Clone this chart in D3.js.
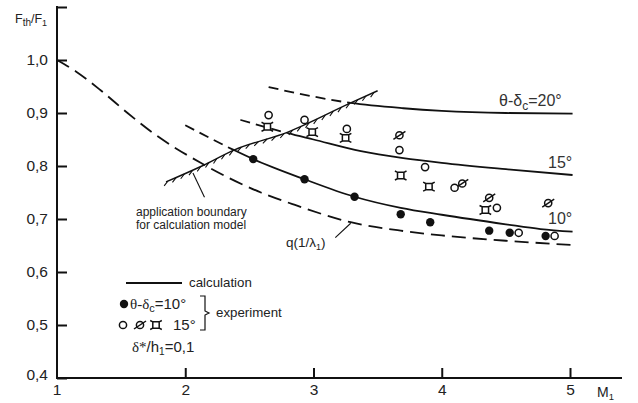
<!DOCTYPE html>
<html>
<head>
<meta charset="utf-8">
<script src="https://cdn.jsdelivr.net/npm/d3@7"></script>
<style>
  body { margin: 0; background: #fff; }
  svg { display: block; font-family: "Liberation Sans", Arial, sans-serif; }
</style>
</head>
<body>
<svg id="chart" width="638" height="403"></svg>
<script>
// Mach number axis ticks and y-axis ticks
const xTicks = [1, 2, 3, 4, 5];
const yTicks = [0.4, 0.5, 0.6, 0.7, 0.8, 0.9, 1.0, 1.1];
const yLabelTicks = [0.4, 0.5, 0.6, 0.7, 0.8, 0.9, 1.0];

// q(1/λ1) reference curve
const qCurve = [
  [1.0, 1.0], [1.15, 0.978], [1.34, 0.943], [1.55, 0.900], [1.75, 0.862],
  [2.12, 0.806], [2.59, 0.750], [2.85, 0.727], [3.29, 0.694], [3.68, 0.678],
  [4.0, 0.669], [4.5, 0.659], [5.02, 0.651]
];

// calculated curves for θ-δc = 10°, 15°, 20°
const calc10 = [
  [2.0, 0.877], [2.38, 0.830], [2.53, 0.813], [2.93, 0.775], [3.32, 0.742],
  [3.68, 0.721], [4.0, 0.708], [4.5, 0.690], [4.77, 0.681], [5.02, 0.676]
];
const calc15 = [
  [2.43, 0.887], [2.8, 0.862], [3.0, 0.850], [3.37, 0.828], [3.7, 0.815],
  [4.0, 0.806], [4.5, 0.794], [5.02, 0.783]
];
const calc20 = [
  [2.65, 0.949], [3.0, 0.931], [3.29, 0.919], [3.7, 0.909], [4.0, 0.904],
  [4.5, 0.900], [5.02, 0.899]
];
// M1 where each calculated curve crosses the application boundary
const boundaryCross = { c10: 2.38, c15: 2.8, c20: 3.29 };

// application boundary of the calculation model
const boundary = [
  [1.85, 0.770], [2.13, 0.800], [2.38, 0.830], [2.8, 0.864], [3.29, 0.919], [3.5, 0.942]
];

// experiment, θ-δc = 10° (filled circles)
const exp10 = [
  [2.53, 0.813], [2.93, 0.775], [3.32, 0.742], [3.68, 0.709], [3.91, 0.694],
  [4.37, 0.678], [4.53, 0.674], [4.81, 0.668]
];
// experiment, θ-δc = 15° (three series: open circle, slashed circle, square)
const exp15Open = [
  [2.65, 0.896], [2.93, 0.887], [3.26, 0.870], [3.67, 0.830], [3.87, 0.798],
  [4.10, 0.759], [4.43, 0.721], [4.60, 0.674], [4.88, 0.668]
];
const exp15Slash = [
  [3.67, 0.858], [4.16, 0.767], [4.37, 0.740], [4.83, 0.730]
];
const exp15Square = [
  [2.64, 0.874], [2.99, 0.864], [3.25, 0.853], [3.68, 0.782], [3.90, 0.761], [4.34, 0.717]
];

const svg = d3.select("#chart");
const x = d3.scaleLinear().domain([1, 5]).range([57, 570]);
const y = d3.scaleLinear().domain([0.4, 1.1]).range([378, 7]);
const ink = "#111";
const fmt = d => d3.format(".1f")(d).replace(".", ",");

// axes
const gx = svg.append("g").attr("transform", `translate(0,${y(0.4)})`)
  .call(d3.axisBottom(x).tickValues(xTicks.slice(1)).tickSizeInner(-10).tickSizeOuter(0).tickPadding(6).tickFormat(d3.format("d")));
const gy = svg.append("g").attr("transform", `translate(${x(1)},0)`)
  .call(d3.axisLeft(y).tickValues(yTicks).tickSizeInner(-10).tickSizeOuter(0).tickPadding(9)
    .tickFormat(d => yLabelTicks.includes(d) ? fmt(d) : ""));
[gx, gy].forEach(g => {
  g.select(".domain").remove();
  g.selectAll("line").attr("stroke", ink).attr("stroke-width", 2);
  g.selectAll("text").attr("fill", "#222").attr("font-size", 15.5)
    .attr("font-family", "Liberation Sans, Arial, sans-serif");
});
gy.selectAll(".tick").filter(d => d === 0.4).select("text").attr("dy", "0.1em");
gx.append("text").attr("x", x(1)).attr("y", 6).attr("dy", "0.71em")
  .attr("text-anchor", "middle").attr("fill", "#222").attr("font-size", 15.5)
  .attr("font-family", "Liberation Sans, Arial, sans-serif").text(xTicks[0]);

svg.append("line").attr("x1", x(1)).attr("x2", 622).attr("y1", y(0.4)).attr("y2", y(0.4))
  .attr("stroke", ink).attr("stroke-width", 2);
svg.append("line").attr("x1", x(1)).attr("x2", x(1)).attr("y1", y(0.4) + 1).attr("y2", y(1.1) - 1)
  .attr("stroke", ink).attr("stroke-width", 2);

// axis titles
const yTitle = svg.append("text").attr("x", 15).attr("y", 23).attr("font-size", 12.5).attr("fill", "#222");
yTitle.append("tspan").text("F");
yTitle.append("tspan").attr("font-size", 10).attr("dy", 3).text("th");
yTitle.append("tspan").attr("dy", -3).text("/F");
yTitle.append("tspan").attr("font-size", 9).attr("dy", 3).text("1");

const xTitle = svg.append("text").attr("x", 597).attr("y", 397).attr("font-size", 14).attr("fill", "#222");
xTitle.append("tspan").text("M");
xTitle.append("tspan").attr("font-size", 9.5).attr("dy", 3).text("1");

const line = d3.line().x(d => x(d[0])).y(d => y(d[1])).curve(d3.curveMonotoneX);

// clip regions left / right of each boundary crossing
const defs = svg.append("defs");
Object.entries(boundaryCross).forEach(([k, m]) => {
  defs.append("clipPath").attr("id", `L${k}`).append("rect")
    .attr("x", 0).attr("y", 0).attr("width", x(m)).attr("height", 403);
  defs.append("clipPath").attr("id", `R${k}`).append("rect")
    .attr("x", x(m)).attr("y", 0).attr("width", 638 - x(m)).attr("height", 403);
});

// q(1/λ1)
svg.append("path").attr("d", line(qCurve)).attr("fill", "none").attr("stroke", ink)
  .attr("stroke-width", 1.8).attr("stroke-dasharray", "14,7");

// calculated curves: dashed outside the model's range, solid inside
[["c10", calc10], ["c15", calc15], ["c20", calc20]].forEach(([k, data]) => {
  svg.append("path").attr("d", line(data)).attr("clip-path", `url(#L${k})`)
    .attr("fill", "none").attr("stroke", ink).attr("stroke-width", 1.8).attr("stroke-dasharray", "10,6");
  svg.append("path").attr("d", line(data)).attr("clip-path", `url(#R${k})`)
    .attr("fill", "none").attr("stroke", ink).attr("stroke-width", 1.8);
});

// application boundary with hatching
const bPath = svg.append("path").attr("d", line(boundary)).attr("fill", "none")
  .attr("stroke", ink).attr("stroke-width", 1.4);
const bNode = bPath.node();
const bLen = bNode.getTotalLength();
const hatch = d3.path();
for (let s = 2; s < bLen - 1; s += 9) {
  const p = bNode.getPointAtLength(s);
  const q = bNode.getPointAtLength(Math.min(s + 1, bLen));
  const a = Math.atan2(q.y - p.y, q.x - p.x);
  const ha = a + Math.PI * 0.84;
  hatch.moveTo(p.x, p.y);
  hatch.lineTo(p.x + 6 * Math.cos(ha), p.y + 6 * Math.sin(ha));
}
svg.append("path").attr("d", hatch.toString()).attr("fill", "none").attr("stroke", ink).attr("stroke-width", 1.1);

// leaders
svg.append("line").attr("x1", x(2.06)).attr("y1", y(0.787)).attr("x2", x(2.15)).attr("y2", y(0.741))
  .attr("stroke", ink).attr("stroke-width", 1.1);
svg.append("line").attr("x1", x(3.29)).attr("y1", y(0.692)).attr("x2", x(3.17)).attr("y2", y(0.665))
  .attr("stroke", ink).attr("stroke-width", 1.1);

// annotation texts
const ann = svg.append("g").attr("font-size", 12).attr("fill", "#222");
ann.append("text").attr("x", 136).attr("y", 216).text("application boundary");
ann.append("text").attr("x", 136).attr("y", 229).text("for calculation model");
const qt = ann.append("text").attr("x", 286).attr("y", 247).attr("font-size", 13.5);
qt.append("tspan").text("q(1/λ");
qt.append("tspan").attr("font-size", 9).attr("dy", 3).text("1");
qt.append("tspan").attr("dy", -3).text(")");

const lab = svg.append("g").attr("font-size", 16).attr("fill", "#333");
const t20 = lab.append("text").attr("x", 499).attr("y", 106);
t20.append("tspan").text("θ-δ");
t20.append("tspan").attr("font-size", 12).attr("dy", 4).text("c");
t20.append("tspan").attr("dy", -4).text("=20°");
lab.append("text").attr("x", 548).attr("y", 168).text("15°");
lab.append("text").attr("x", 548).attr("y", 224).text("10°");

// experimental point symbols
function filled(g, cx, cy) {
  g.append("circle").attr("cx", cx).attr("cy", cy).attr("r", 4.2).attr("fill", ink);
}
function open(g, cx, cy) {
  g.append("circle").attr("cx", cx).attr("cy", cy).attr("r", 3.6).attr("fill", "#fff")
    .attr("stroke", ink).attr("stroke-width", 1.5);
}
function slashed(g, cx, cy) {
  open(g, cx, cy);
  g.append("line").attr("x1", cx - 6).attr("y1", cy + 4).attr("x2", cx + 6).attr("y2", cy - 4)
    .attr("stroke", ink).attr("stroke-width", 1.5);
}
function square(g, cx, cy) {
  const h = 3.2, t = 2.6;
  const p = d3.path();
  p.moveTo(cx - h, cy - h); p.lineTo(cx + h, cy - h); p.lineTo(cx + h, cy + h);
  p.lineTo(cx - h, cy + h); p.closePath();
  [[-1, -1], [1, -1], [1, 1], [-1, 1]].forEach(([sx, sy]) => {
    p.moveTo(cx + sx * h, cy + sy * h);
    p.lineTo(cx + sx * (h + t), cy + sy * (h + t * 0.5));
  });
  g.append("path").attr("d", p.toString()).attr("fill", "#fff").attr("stroke", ink).attr("stroke-width", 1.5);
}

const pts = svg.append("g");
exp15Square.forEach(d => square(pts, x(d[0]), y(d[1])));
exp15Slash.forEach(d => slashed(pts, x(d[0]), y(d[1])));
exp15Open.forEach(d => open(pts, x(d[0]), y(d[1])));
exp10.forEach(d => filled(pts, x(d[0]), y(d[1])));

// legend
const lg = svg.append("g").attr("fill", "#222");
lg.append("line").attr("x1", 126).attr("x2", 182).attr("y1", 283).attr("y2", 283)
  .attr("stroke", ink).attr("stroke-width", 1.8);
lg.append("text").attr("x", 189).attr("y", 287).attr("font-size", 13.3).text("calculation");
filled(lg, 124, 304);
const l10 = lg.append("text").attr("x", 130).attr("y", 309).attr("font-size", 15);
l10.append("tspan").attr("font-family", "Liberation Serif, serif").text("θ-δ");
l10.append("tspan").attr("font-size", 11).attr("dy", 3).text("c");
l10.append("tspan").attr("dy", -3).text("=10°");
open(lg, 123, 325);
slashed(lg, 140, 325);
square(lg, 156, 325);
lg.append("text").attr("x", 173).attr("y", 330).attr("font-size", 15).text("15°");
lg.append("path").attr("d", "M200,296 L205,296 L205,311 L209,313 L205,315 L205,330 L200,330")
  .attr("fill", "none").attr("stroke", ink).attr("stroke-width", 1.2);
lg.append("text").attr("x", 216).attr("y", 317).attr("font-size", 13.3).text("experiment");
const ld = lg.append("text").attr("x", 132).attr("y", 352).attr("font-size", 15);
ld.append("tspan").attr("font-family", "Liberation Serif, serif").text("δ*");
ld.append("tspan").text("/h");
ld.append("tspan").attr("font-size", 10).attr("dy", 3).text("1");
ld.append("tspan").attr("dy", -3).text("=0,1");
</script>
</body>
</html>
